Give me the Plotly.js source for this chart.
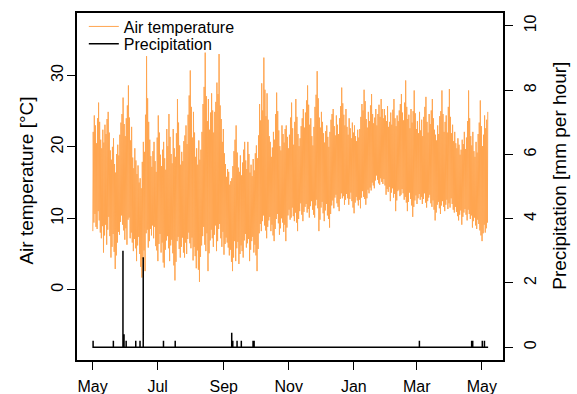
<!DOCTYPE html>
<html>
<head>
<meta charset="utf-8">
<script src="https://cdn.plot.ly/plotly-3.0.1.min.js"></script>
<style>
  html, body { margin: 0; padding: 0; background: #fff; }
  #chart { width: 577px; height: 394px; }
</style>
</head>
<body>
<div id="chart"></div>
<script>
// Station record: one year of daily air temperature extremes and hourly rain events
const startDate = '2012-05-01';

// Daily maximum air temperature (°C), day 0 = 1 May
const tmax = [
  22.1, 24.4, 23.0, 20.5, 24.0, 26.2, 23.5, 21.0, 19.8, 22.4,
  20.6, 23.1, 21.8, 23.9, 24.9, 22.0, 19.5, 18.2, 20.0, 21.2,
  17.6, 16.4, 19.0, 20.3, 18.8, 21.7, 23.4, 24.6, 26.9, 23.2,
  21.5, 24.0, 25.8, 28.6, 24.1, 20.9, 22.8, 18.5, 17.0, 19.8,
  18.1, 16.2, 17.4, 15.0, 15.6, 14.2, 17.9, 20.7, 19.3, 24.5,
  32.7, 26.8, 23.5, 21.0, 18.7, 17.2, 19.4, 20.7, 18.0, 16.5,
  21.3, 24.4, 22.0, 18.9, 17.3, 19.6, 20.7, 18.4, 16.8, 22.5,
  20.1, 24.6, 21.4, 19.0, 17.7, 22.5, 19.8, 18.6, 21.9, 26.7,
  23.4, 20.2, 17.5, 19.3, 18.0, 20.8, 21.6, 23.0, 20.4, 24.5,
  27.2, 30.7, 25.6, 21.3, 24.9, 22.0, 18.6, 19.8, 17.5, 20.9,
  18.2, 19.6, 22.1, 26.0, 28.4, 33.2, 27.1, 23.6, 26.7, 22.4,
  24.8, 27.5, 25.1, 22.0, 24.9, 26.3, 29.0, 27.4, 33.0, 25.8,
  23.9, 20.7, 22.5, 19.1, 17.6, 15.8, 16.9, 16.5, 14.7, 15.2,
  15.6, 17.3, 19.4, 21.0, 23.0, 19.2, 17.1, 16.5, 18.8, 16.0,
  17.8, 19.6, 20.7, 18.1, 16.9, 20.7, 19.0, 16.4, 17.5, 15.9,
  18.3, 16.7, 19.1, 20.2, 18.4, 21.6, 26.0, 23.7, 28.9, 25.1,
  32.5, 28.0, 24.3, 27.5, 23.8, 21.5, 20.7, 18.6, 19.9, 22.1,
  21.0, 24.6, 27.6, 25.0, 22.3, 20.1, 19.5, 23.0, 21.8, 20.6,
  22.5, 23.0, 21.4, 19.8, 21.7, 24.1, 26.2, 22.6, 20.3, 23.5,
  26.7, 24.2, 21.8, 20.1, 21.2, 22.9, 24.0, 25.3, 22.7, 24.8,
  26.5, 28.6, 25.9, 23.1, 24.0, 21.5, 20.2, 22.8, 25.6, 27.3,
  30.6, 26.8, 24.1, 22.7, 24.9, 23.5, 21.9, 20.6, 22.2, 23.0,
  21.4, 20.0, 22.1, 23.8, 24.6, 25.3, 22.9, 21.6, 24.4, 23.1,
  21.8, 24.0, 25.7, 28.3, 26.1, 24.5, 23.0, 25.3, 22.8, 21.7,
  24.0, 22.6, 21.2, 23.4, 22.0, 23.0, 21.5, 20.8, 22.4, 21.3,
  22.5, 24.2, 26.0, 25.1, 28.0, 26.4, 23.9, 22.7, 24.9, 23.6,
  25.8, 27.4, 24.6, 23.3, 24.1, 25.3, 23.0, 24.6, 25.9, 24.2,
  26.7, 25.3, 24.0, 25.3, 24.4, 23.6, 25.7, 22.8, 23.5, 24.8,
  23.1, 25.2, 26.7, 24.0, 22.9, 24.4, 23.6, 25.1, 26.0, 27.4,
  24.8, 23.7, 26.2, 29.3, 25.6, 23.9, 24.5, 22.6, 25.3, 23.4,
  25.0, 27.9, 24.7, 22.5, 23.6, 21.9, 24.9, 22.3, 23.8, 21.5,
  24.2, 25.6, 27.0, 23.5, 22.0, 24.6, 23.2, 25.1, 26.7, 24.0,
  22.4, 21.7, 20.9, 23.0, 21.8, 24.3, 25.0, 27.9, 24.6, 22.1,
  23.5, 24.4, 22.0, 25.6, 28.1, 24.2, 21.9, 23.1, 20.8, 22.1,
  20.5, 19.8, 21.2, 20.3, 18.9, 19.6, 21.0, 20.4, 22.1, 19.7,
  21.3, 23.6, 27.9, 24.0, 21.5, 20.2, 22.1, 19.4, 18.6, 20.7,
  19.2, 21.8, 23.4, 26.5, 22.9, 20.1, 21.7, 24.4, 22.6, 23.8, 24.9
];

// Daily minimum air temperature (°C)
const tmin = [
  8.2, 9.4, 10.6, 8.8, 8.5, 11.0, 9.7, 8.0, 7.2, 8.9,
  5.2, 7.6, 9.1, 6.3, 8.4, 10.2, 7.5, 4.5, 6.0, 7.8,
  5.3, 2.9, 4.8, 6.6, 8.1, 7.7, 9.5, 10.4, 9.1, 8.3,
  7.0, 8.6, 6.3, 9.8, 10.1, 7.2, 8.0, 6.6, 5.4, 7.1,
  5.8, 4.0, 6.2, 7.4, 5.0, 3.2, 1.7, 4.3, 5.5, 2.6,
  7.9, 8.4, 5.9, 6.8, 8.5, 7.6, 9.0, 7.2, 8.8, 6.1,
  5.5, 4.0, 6.4, 7.8, 5.2, 6.6, 3.8, 3.1, 5.6, 6.9,
  7.5, 5.8, 4.0, 6.2, 7.0, 5.1, 3.4, 1.3, 3.9, 6.8,
  7.4, 5.7, 4.5, 6.0, 7.3, 5.2, 4.5, 6.6, 5.0, 7.1,
  8.0, 6.5, 5.8, 7.3, 4.1, 6.0, 4.7, 3.0, 5.5, 2.8,
  1.1, 4.6, 6.2, 7.5, 8.8, 6.3, 5.4, 7.9, 2.6, 5.1,
  6.9, 8.4, 7.2, 6.0, 7.7, 9.0, 5.4, 6.8, 8.5, 9.2,
  7.2, 6.0, 8.1, 4.9, 6.4, 7.3, 6.6, 5.9, 4.8, 5.6,
  3.9, 2.6, 4.5, 6.8, 4.0, 5.8, 6.7, 3.6, 5.0, 6.2,
  5.4, 4.5, 6.9, 7.8, 5.9, 6.5, 7.1, 4.0, 5.6, 6.8,
  7.4, 5.2, 6.3, 4.8, 2.6, 5.7, 7.9, 9.2, 8.2, 9.6,
  10.4, 9.0, 8.3, 7.2, 8.8, 9.7, 10.2, 8.2, 9.1, 7.6,
  6.8, 8.5, 9.9, 10.6, 9.3, 7.7, 8.6, 10.0, 9.4, 8.1,
  9.1, 6.8, 8.7, 10.4, 11.2, 9.8, 10.1, 11.5, 10.3, 9.6,
  10.8, 9.4, 8.2, 9.9, 11.0, 12.1, 10.5, 9.6, 10.9, 11.6,
  12.0, 10.8, 11.3, 10.1, 11.7, 12.4, 11.2, 10.5, 10.1, 11.8,
  12.6, 11.4, 8.2, 9.8, 11.5, 12.3, 10.7, 9.6, 11.1, 12.0,
  10.4, 9.9, 8.7, 10.6, 11.8, 12.5, 11.4, 12.9, 13.3, 12.1,
  11.6, 11.0, 12.7, 13.5, 12.8, 13.1, 11.9, 12.6, 13.4, 12.8,
  11.9, 12.7, 13.6, 12.4, 11.5, 10.7, 12.2, 13.0, 12.5, 11.8,
  12.6, 11.4, 12.9, 13.8, 13.0, 12.7, 11.9, 12.8, 14.0, 13.5,
  14.3, 13.9, 15.0, 14.6, 14.2, 15.3, 16.0, 15.4, 14.9, 14.7,
  15.6, 15.1, 14.8, 15.5, 14.6, 13.3, 14.1, 13.7, 14.4, 12.4,
  13.6, 14.2, 12.9, 13.4, 11.0, 12.5, 13.8, 14.0, 13.1, 13.3,
  14.1, 13.5, 12.6, 13.0, 12.2, 11.0, 12.3, 13.6, 12.7, 11.8,
  10.2, 11.6, 12.5, 13.2, 12.0, 12.8, 13.4, 12.6, 13.0, 12.0,
  12.7, 13.5, 12.2, 11.5, 12.4, 12.9, 13.3, 12.1, 11.6, 12.5,
  11.2, 9.7, 10.8, 11.9, 12.3, 11.4, 10.6, 11.8, 12.4, 11.6,
  11.0, 11.9, 12.6, 11.3, 12.1, 11.5, 12.8, 12.0, 11.2, 10.8,
  11.6, 10.9, 10.3, 9.7, 10.5, 11.1, 9.1, 10.2, 10.8, 11.3,
  10.5, 9.7, 11.2, 10.6, 9.9, 10.4, 8.7, 9.6, 10.1, 9.0,
  8.5, 9.8, 9.2, 8.3, 7.6, 6.8, 7.9, 9.1, 8.0, 8.6, 9.4
];

// Rain events: day index (from 1 May) and hourly amount (mm)
const rainDay = [0, 19, 28, 29, 31, 40, 44, 47, 66, 77, 130, 131, 135, 139, 150, 151, 306, 355, 356, 365, 367];
const rainMm  = [0.2, 0.2, 3.0, 0.4, 0.2, 0.2, 0.2, 2.8, 0.2, 0.2, 0.45, 0.2, 0.2, 0.2, 0.2, 0.2, 0.2, 0.2, 0.2, 0.2, 0.2];

// Axis labelling
const monthTickDates = ['2012-05-01', '2012-07-01', '2012-09-01', '2012-11-01', '2013-01-01', '2013-03-01', '2013-05-01'];
const monthTickText  = ['May', 'Jul', 'Sep', 'Nov', 'Jan', 'Mar', 'May'];
const tempTicks = [0, 10, 20, 30];
const rainTicks = [0, 2, 4, 6, 8, 10];
const tempTitle = 'Air temperature [°C]';
const rainTitle = 'Precipitation [mm per hour]';

const DAY = 86400000;
const t0 = Date.parse(startDate + 'T00:00:00Z');
const fmt = ms => new Date(ms).toISOString().slice(0, 19).replace('T', ' ');
const at = (day, hour) => fmt(t0 + day * DAY + hour * 3600000);

// Temperature: overnight minimum then afternoon maximum for each day
const tx = [], ty = [];
for (let d = 0; d < tmax.length; d++) {
  tx.push(at(d, 6));  ty.push(tmin[d]);
  tx.push(at(d, 15)); ty.push(tmax[d]);
}

// Precipitation: zero baseline with a spike for each rain hour
const px = [at(0, 0)], py = [0];
rainDay.forEach((d, i) => {
  px.push(at(d, 12), at(d, 12), at(d, 12));
  py.push(0, rainMm[i], 0);
});
px.push(at(tmax.length - 1, 23)); py.push(0);

const FONT = 'Liberation Sans, Arial, Helvetica, sans-serif';
const TITLE_FONT = { family: FONT, size: 19, color: '#000' };

const traces = [
  {
    x: tx, y: ty, type: 'scatter', mode: 'lines', name: 'Air temperature',
    line: { color: '#FFA54F', width: 1 }, yaxis: 'y', hoverinfo: 'skip',
    legend: 'legend'
  },
  {
    x: px, y: py, type: 'scatter', mode: 'lines', name: 'Precipitation',
    line: { color: '#000000', width: 1.5 }, yaxis: 'y2', hoverinfo: 'skip',
    legend: 'legend2'
  }
];

const axisCommon = {
  showgrid: false, zeroline: false, showline: true, linecolor: '#000', linewidth: 2,
  ticks: 'outside', tickcolor: '#000', tickwidth: 1,
  tickfont: { family: FONT, size: 16, color: '#000' }
};

const legendCommon = {
  x: 0.016, xanchor: 'left', yanchor: 'top',
  bgcolor: 'rgba(0,0,0,0)', borderwidth: 0,
  font: { family: FONT, size: 16, color: '#000' }
};

const layout = {
  width: 577, height: 394,
  margin: { l: 77, r: 74, t: 10, b: 34, pad: 0 },
  paper_bgcolor: '#fff', plot_bgcolor: '#fff',
  font: { family: FONT, size: 16, color: '#000' },
  showlegend: true,
  legend: Object.assign({}, legendCommon, { y: 1.01 }),
  legend2: Object.assign({}, legendCommon, { y: 0.96 }),
  xaxis: Object.assign({}, axisCommon, {
    type: 'date',
    range: [fmt(t0 - 14.6 * DAY), fmt(t0 + 384.9 * DAY)],
    tickmode: 'array', tickvals: monthTickDates, ticktext: monthTickText,
    ticklen: 8, ticklabelstandoff: 3, mirror: true
  }),
  yaxis: Object.assign({}, axisCommon, {
    range: [-9.85, 38.75],
    tickmode: 'array', tickvals: tempTicks, ticktext: tempTicks.map(String),
    tickangle: -90, ticklen: 8, ticklabelstandoff: -2, mirror: true
  }),
  yaxis2: Object.assign({}, axisCommon, {
    overlaying: 'y', side: 'right', anchor: 'x',
    range: [-0.4, 10.4],
    tickmode: 'array', tickvals: rainTicks, ticktext: rainTicks.map(String),
    tickangle: -90, ticklen: 8, ticklabelstandoff: 4
  }),
  annotations: [
    {
      text: tempTitle, xref: 'paper', yref: 'paper',
      x: -0.1174, y: 0.517, xanchor: 'center', yanchor: 'middle',
      textangle: -90, showarrow: false, font: TITLE_FONT
    },
    {
      text: rainTitle, xref: 'paper', yref: 'paper',
      x: 1.1338, y: 0.531, xanchor: 'center', yanchor: 'middle',
      textangle: -90, showarrow: false, font: TITLE_FONT
    }
  ]
};

Plotly.newPlot('chart', traces, layout, { staticPlot: true, displayModeBar: false });
</script>
</body>
</html>
